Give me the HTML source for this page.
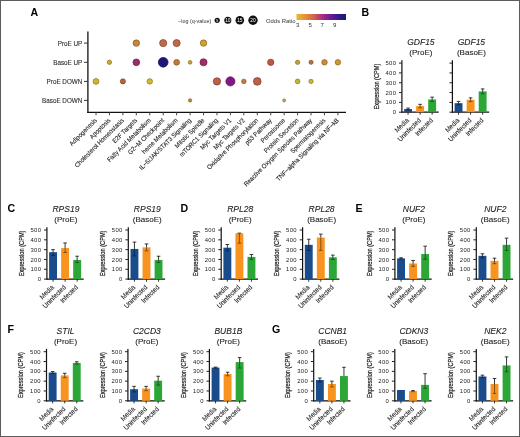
<!DOCTYPE html><html><head><meta charset="utf-8"><style>html,body{margin:0;padding:0;background:#fff;}svg{display:block;filter:blur(0.35px);}text{font-family:"Liberation Sans", sans-serif;} .tx{stroke:#222;stroke-width:0.22px;} .tl{stroke:#222;stroke-width:0.1px;}</style></head><body>
<svg width="520" height="437" viewBox="0 0 520 437">
<defs><linearGradient id="plasma" x1="0" x2="1" y1="0" y2="0"><stop offset="0" stop-color="#e4bc30"/><stop offset="0.18" stop-color="#e49038"/><stop offset="0.36" stop-color="#d0604e"/><stop offset="0.53" stop-color="#a82a84"/><stop offset="0.72" stop-color="#5c1c98"/><stop offset="0.9" stop-color="#261a80"/><stop offset="1" stop-color="#1e1870"/></linearGradient></defs>
<rect x="0" y="0" width="520" height="437" fill="#fff"/>
<text  x="30.60" y="16.40" font-size="10.6" text-anchor="start" font-weight="bold" font-style="normal" fill="#000" >A</text>
<text  x="361.60" y="16.40" font-size="10.6" text-anchor="start" font-weight="bold" font-style="normal" fill="#000" >B</text>
<text  x="7.40" y="212.00" font-size="10.6" text-anchor="start" font-weight="bold" font-style="normal" fill="#000" >C</text>
<text  x="180.60" y="212.00" font-size="10.6" text-anchor="start" font-weight="bold" font-style="normal" fill="#000" >D</text>
<text  x="355.60" y="212.00" font-size="10.6" text-anchor="start" font-weight="bold" font-style="normal" fill="#000" >E</text>
<text  x="7.60" y="333.20" font-size="10.6" text-anchor="start" font-weight="bold" font-style="normal" fill="#000" >F</text>
<text  x="272.00" y="333.20" font-size="10.6" text-anchor="start" font-weight="bold" font-style="normal" fill="#000" >G</text>
<line x1="87.90" y1="31.60" x2="87.90" y2="112.90" stroke="#111" stroke-width="1.3"/>
<line x1="87.30" y1="112.30" x2="346.00" y2="112.30" stroke="#111" stroke-width="1.3"/>
<line x1="84.00" y1="43.10" x2="88.00" y2="43.10" stroke="#333" stroke-width="1.0"/>
<text class="tl" x="82.3" y="45.80" font-size="6.3" text-anchor="end" fill="#333">ProE UP</text>
<line x1="84.00" y1="62.30" x2="88.00" y2="62.30" stroke="#333" stroke-width="1.0"/>
<text class="tl" x="82.3" y="65.00" font-size="6.3" text-anchor="end" fill="#333">BasoE UP</text>
<line x1="84.00" y1="81.40" x2="88.00" y2="81.40" stroke="#333" stroke-width="1.0"/>
<text class="tl" x="82.3" y="84.10" font-size="6.3" text-anchor="end" fill="#333">ProE DOWN</text>
<line x1="84.00" y1="100.40" x2="88.00" y2="100.40" stroke="#333" stroke-width="1.0"/>
<text class="tl" x="82.3" y="103.10" font-size="6.3" text-anchor="end" fill="#333">BasoE DOWN</text>
<line x1="96.00" y1="112.30" x2="96.00" y2="115.30" stroke="#444" stroke-width="1.0"/>
<text transform="translate(95.80,119.20) rotate(-45)" class="tl" font-size="6.5" text-anchor="end" fill="#222" dy="0.35em" textLength="36.03" lengthAdjust="spacingAndGlyphs">Adipogenesis</text>
<line x1="109.44" y1="112.30" x2="109.44" y2="115.30" stroke="#444" stroke-width="1.0"/>
<text transform="translate(109.24,119.20) rotate(-45)" class="tl" font-size="6.5" text-anchor="end" fill="#222" dy="0.35em" textLength="26.35" lengthAdjust="spacingAndGlyphs">Apoptosis</text>
<line x1="122.88" y1="112.30" x2="122.88" y2="115.30" stroke="#444" stroke-width="1.0"/>
<text transform="translate(122.68,119.20) rotate(-45)" class="tl" font-size="6.5" text-anchor="end" fill="#222" dy="0.35em" textLength="66.69" lengthAdjust="spacingAndGlyphs">Cholesterol Homeostasis</text>
<line x1="136.32" y1="112.30" x2="136.32" y2="115.30" stroke="#444" stroke-width="1.0"/>
<text transform="translate(136.12,119.20) rotate(-45)" class="tl" font-size="6.5" text-anchor="end" fill="#222" dy="0.35em" textLength="32.24" lengthAdjust="spacingAndGlyphs">E2F Targets</text>
<line x1="149.76" y1="112.30" x2="149.76" y2="115.30" stroke="#444" stroke-width="1.0"/>
<text transform="translate(149.56,119.20) rotate(-45)" class="tl" font-size="6.5" text-anchor="end" fill="#222" dy="0.35em" textLength="58.69" lengthAdjust="spacingAndGlyphs">Fatty Acid Metabolism</text>
<line x1="163.20" y1="112.30" x2="163.20" y2="115.30" stroke="#444" stroke-width="1.0"/>
<text transform="translate(163.00,119.20) rotate(-45)" class="tl" font-size="6.5" text-anchor="end" fill="#222" dy="0.35em" textLength="48.19" lengthAdjust="spacingAndGlyphs">G2−M Checkpoint</text>
<line x1="176.64" y1="112.30" x2="176.64" y2="115.30" stroke="#444" stroke-width="1.0"/>
<text transform="translate(176.44,119.20) rotate(-45)" class="tl" font-size="6.5" text-anchor="end" fill="#222" dy="0.35em" textLength="47.35" lengthAdjust="spacingAndGlyphs">heme Metabolism</text>
<line x1="190.08" y1="112.30" x2="190.08" y2="115.30" stroke="#444" stroke-width="1.0"/>
<text transform="translate(189.88,119.20) rotate(-45)" class="tl" font-size="6.5" text-anchor="end" fill="#222" dy="0.35em" textLength="70.32" lengthAdjust="spacingAndGlyphs">IL−6/JAK/STAT3 Signaling</text>
<line x1="203.52" y1="112.30" x2="203.52" y2="115.30" stroke="#444" stroke-width="1.0"/>
<text transform="translate(203.32,119.20) rotate(-45)" class="tl" font-size="6.5" text-anchor="end" fill="#222" dy="0.35em" textLength="39.02" lengthAdjust="spacingAndGlyphs">Mitotic Spindle</text>
<line x1="216.96" y1="112.30" x2="216.96" y2="115.30" stroke="#444" stroke-width="1.0"/>
<text transform="translate(216.76,119.20) rotate(-45)" class="tl" font-size="6.5" text-anchor="end" fill="#222" dy="0.35em" textLength="51.58" lengthAdjust="spacingAndGlyphs">mTORC1 Signaling</text>
<line x1="230.40" y1="112.30" x2="230.40" y2="115.30" stroke="#444" stroke-width="1.0"/>
<text transform="translate(230.20,119.20) rotate(-45)" class="tl" font-size="6.5" text-anchor="end" fill="#222" dy="0.35em" textLength="41.24" lengthAdjust="spacingAndGlyphs">Myc Targets V1</text>
<line x1="243.84" y1="112.30" x2="243.84" y2="115.30" stroke="#444" stroke-width="1.0"/>
<text transform="translate(243.64,119.20) rotate(-45)" class="tl" font-size="6.5" text-anchor="end" fill="#222" dy="0.35em" textLength="41.24" lengthAdjust="spacingAndGlyphs">Myc Targets V2</text>
<line x1="257.28" y1="112.30" x2="257.28" y2="115.30" stroke="#444" stroke-width="1.0"/>
<text transform="translate(257.08,119.20) rotate(-45)" class="tl" font-size="6.5" text-anchor="end" fill="#222" dy="0.35em" textLength="69.71" lengthAdjust="spacingAndGlyphs">Oxidative Phosphorylation</text>
<line x1="270.72" y1="112.30" x2="270.72" y2="115.30" stroke="#444" stroke-width="1.0"/>
<text transform="translate(270.52,119.20) rotate(-45)" class="tl" font-size="6.5" text-anchor="end" fill="#222" dy="0.35em" textLength="34.69" lengthAdjust="spacingAndGlyphs">p53 Pathway</text>
<line x1="284.16" y1="112.30" x2="284.16" y2="115.30" stroke="#444" stroke-width="1.0"/>
<text transform="translate(283.96,119.20) rotate(-45)" class="tl" font-size="6.5" text-anchor="end" fill="#222" dy="0.35em" textLength="31.68" lengthAdjust="spacingAndGlyphs">Peroxisome</text>
<line x1="297.60" y1="112.30" x2="297.60" y2="115.30" stroke="#444" stroke-width="1.0"/>
<text transform="translate(297.40,119.20) rotate(-45)" class="tl" font-size="6.5" text-anchor="end" fill="#222" dy="0.35em" textLength="46.03" lengthAdjust="spacingAndGlyphs">Protein Secretion</text>
<line x1="311.04" y1="112.30" x2="311.04" y2="115.30" stroke="#444" stroke-width="1.0"/>
<text transform="translate(310.84,119.20) rotate(-45)" class="tl" font-size="6.5" text-anchor="end" fill="#222" dy="0.35em" textLength="93.38" lengthAdjust="spacingAndGlyphs">Reactive Oxygen Species Pathway</text>
<line x1="324.48" y1="112.30" x2="324.48" y2="115.30" stroke="#444" stroke-width="1.0"/>
<text transform="translate(324.28,119.20) rotate(-45)" class="tl" font-size="6.5" text-anchor="end" fill="#222" dy="0.35em" textLength="46.69" lengthAdjust="spacingAndGlyphs">Spermatogenesis</text>
<line x1="337.92" y1="112.30" x2="337.92" y2="115.30" stroke="#444" stroke-width="1.0"/>
<text transform="translate(337.72,119.20) rotate(-45)" class="tl" font-size="6.5" text-anchor="end" fill="#222" dy="0.35em" textLength="85.71" lengthAdjust="spacingAndGlyphs">TNF−alpha Signaling via NF−kB</text>
<circle cx="136.32" cy="43.10" r="3.25" fill="#ce8335" stroke="#865522" stroke-width="0.7"/>
<circle cx="163.20" cy="43.10" r="3.60" fill="#be6a46" stroke="#7c452d" stroke-width="0.7"/>
<circle cx="176.64" cy="43.10" r="3.55" fill="#be6a46" stroke="#7c452d" stroke-width="0.7"/>
<circle cx="203.52" cy="43.10" r="3.25" fill="#cda12d" stroke="#85691d" stroke-width="0.7"/>
<circle cx="109.44" cy="62.30" r="2.15" fill="#cbab2b" stroke="#846f1c" stroke-width="0.7"/>
<circle cx="136.32" cy="62.30" r="3.35" fill="#992d66" stroke="#641d42" stroke-width="0.7"/>
<circle cx="163.20" cy="62.30" r="4.85" fill="#211677" stroke="#150e4e" stroke-width="0.7"/>
<circle cx="176.64" cy="62.30" r="2.85" fill="#c1793c" stroke="#7e4f27" stroke-width="0.7"/>
<circle cx="190.08" cy="62.30" r="1.85" fill="#cda72b" stroke="#856d1c" stroke-width="0.7"/>
<circle cx="203.52" cy="62.30" r="3.55" fill="#9f2d68" stroke="#681d44" stroke-width="0.7"/>
<circle cx="270.72" cy="62.30" r="3.15" fill="#ba5940" stroke="#793a2a" stroke-width="0.7"/>
<circle cx="297.60" cy="62.30" r="2.15" fill="#c7a12d" stroke="#82691d" stroke-width="0.7"/>
<circle cx="311.04" cy="62.30" r="2.05" fill="#ba733e" stroke="#794b28" stroke-width="0.7"/>
<circle cx="324.48" cy="62.30" r="2.75" fill="#c98e31" stroke="#835d20" stroke-width="0.7"/>
<circle cx="337.92" cy="62.30" r="2.75" fill="#cb9b2f" stroke="#84651f" stroke-width="0.7"/>
<circle cx="96.00" cy="81.40" r="2.95" fill="#d1b62b" stroke="#88771c" stroke-width="0.7"/>
<circle cx="122.88" cy="81.40" r="2.55" fill="#ba6439" stroke="#794125" stroke-width="0.7"/>
<circle cx="149.76" cy="81.40" r="2.75" fill="#d4ba29" stroke="#8a791b" stroke-width="0.7"/>
<circle cx="216.96" cy="81.40" r="3.65" fill="#be5f46" stroke="#7c3e2d" stroke-width="0.7"/>
<circle cx="230.40" cy="81.40" r="4.55" fill="#831885" stroke="#551056" stroke-width="0.7"/>
<circle cx="243.84" cy="81.40" r="2.25" fill="#c57d3e" stroke="#805128" stroke-width="0.7"/>
<circle cx="257.28" cy="81.40" r="3.85" fill="#be5f46" stroke="#7c3e2d" stroke-width="0.7"/>
<circle cx="297.60" cy="81.40" r="2.35" fill="#beb62d" stroke="#7c771d" stroke-width="0.7"/>
<circle cx="311.04" cy="81.40" r="2.15" fill="#c4ba35" stroke="#807922" stroke-width="0.7"/>
<circle cx="190.08" cy="100.40" r="1.65" fill="#c18c2f" stroke="#7e5b1f" stroke-width="0.7"/>
<circle cx="284.16" cy="100.40" r="1.45" fill="#bea75b" stroke="#7c6d3b" stroke-width="0.7"/>
<text  x="178.00" y="22.80" font-size="5.45" text-anchor="start" font-weight="normal" font-style="normal" fill="#333" >−log (q-value)</text>
<circle cx="217.2" cy="20.3" r="2.6" fill="#111"/>
<text  x="217.20" y="22.00" font-size="4.2" text-anchor="middle" font-weight="normal" font-style="normal" fill="#fff" >5</text>
<circle cx="227.8" cy="20.3" r="3.5" fill="#111"/>
<text  x="227.80" y="22.00" font-size="4.8" text-anchor="middle" font-weight="normal" font-style="normal" fill="#fff" >10</text>
<circle cx="239.8" cy="20.3" r="4.3" fill="#111"/>
<text  x="239.80" y="22.00" font-size="4.8" text-anchor="middle" font-weight="normal" font-style="normal" fill="#fff" >15</text>
<circle cx="253.0" cy="20.3" r="4.7" fill="#111"/>
<text  x="253.00" y="22.00" font-size="4.8" text-anchor="middle" font-weight="normal" font-style="normal" fill="#fff" >20</text>
<text  x="266.00" y="23.00" font-size="5.9" text-anchor="start" font-weight="normal" font-style="normal" fill="#333" >Odds Ratio</text>
<rect x="296.5" y="14" width="49.5" height="6" fill="url(#plasma)"/>
<text  x="297.60" y="27.30" font-size="6.1" text-anchor="middle" font-weight="normal" font-style="normal" fill="#333" >3</text>
<text  x="310.20" y="27.30" font-size="6.1" text-anchor="middle" font-weight="normal" font-style="normal" fill="#333" >5</text>
<text  x="322.20" y="27.30" font-size="6.1" text-anchor="middle" font-weight="normal" font-style="normal" fill="#333" >7</text>
<text  x="334.80" y="27.30" font-size="6.1" text-anchor="middle" font-weight="normal" font-style="normal" fill="#333" >9</text>
<line x1="401.90" y1="60.30" x2="401.90" y2="112.80" stroke="#111" stroke-width="1.2"/>
<line x1="401.30" y1="112.20" x2="438.70" y2="112.20" stroke="#111" stroke-width="1.2"/>
<line x1="399.00" y1="112.20" x2="401.90" y2="112.20" stroke="#222" stroke-width="1.0"/>
<text x="396.30" y="114.30" font-size="5.9" text-anchor="end" fill="#222" letter-spacing="0.35">0</text>
<line x1="399.00" y1="102.38" x2="401.90" y2="102.38" stroke="#222" stroke-width="1.0"/>
<text x="396.30" y="104.48" font-size="5.9" text-anchor="end" fill="#222" letter-spacing="0.35">100</text>
<line x1="399.00" y1="92.56" x2="401.90" y2="92.56" stroke="#222" stroke-width="1.0"/>
<text x="396.30" y="94.66" font-size="5.9" text-anchor="end" fill="#222" letter-spacing="0.35">200</text>
<line x1="399.00" y1="82.74" x2="401.90" y2="82.74" stroke="#222" stroke-width="1.0"/>
<text x="396.30" y="84.84" font-size="5.9" text-anchor="end" fill="#222" letter-spacing="0.35">300</text>
<line x1="399.00" y1="72.92" x2="401.90" y2="72.92" stroke="#222" stroke-width="1.0"/>
<text x="396.30" y="75.02" font-size="5.9" text-anchor="end" fill="#222" letter-spacing="0.35">400</text>
<line x1="399.00" y1="63.10" x2="401.90" y2="63.10" stroke="#222" stroke-width="1.0"/>
<text x="396.30" y="65.20" font-size="5.9" text-anchor="end" fill="#222" letter-spacing="0.35">500</text>
<text transform="translate(378.60,86.50) rotate(-90)" class="tx" font-size="7.0" text-anchor="middle" fill="#222" textLength="45.8" lengthAdjust="spacingAndGlyphs">Expression (CPM)</text>
<text class="tl" x="420.90" y="45.40" font-size="8.5" text-anchor="middle" font-style="italic" fill="#222">GDF15</text>
<text class="tl" x="420.90" y="55.20" font-size="8.0" text-anchor="middle" fill="#222">(ProE)</text>
<rect x="404.10" y="109.06" width="7.9" height="3.14" fill="#1a4c8c"/>
<line x1="408.05" y1="108.08" x2="408.05" y2="109.06" stroke="#222" stroke-width="0.9"/>
<line x1="406.25" y1="108.08" x2="409.85" y2="108.08" stroke="#222" stroke-width="0.9"/>
<line x1="408.05" y1="109.06" x2="408.05" y2="110.04" stroke="#0d2646" stroke-width="0.9"/>
<line x1="406.25" y1="110.04" x2="409.85" y2="110.04" stroke="#0d2646" stroke-width="0.9"/>
<line x1="408.05" y1="112.20" x2="408.05" y2="114.80" stroke="#222" stroke-width="0.9"/>
<text transform="translate(407.65,119.20) rotate(-45)" class="tl" font-size="7.0" text-anchor="end" fill="#222" dy="0.35em" textLength="16.89" lengthAdjust="spacingAndGlyphs">Media</text>
<rect x="416.15" y="106.11" width="7.9" height="6.09" fill="#f7931e"/>
<line x1="420.10" y1="104.34" x2="420.10" y2="106.11" stroke="#222" stroke-width="0.9"/>
<line x1="418.30" y1="104.34" x2="421.90" y2="104.34" stroke="#222" stroke-width="0.9"/>
<line x1="420.10" y1="106.11" x2="420.10" y2="107.78" stroke="#7b490f" stroke-width="0.9"/>
<line x1="418.30" y1="107.78" x2="421.90" y2="107.78" stroke="#7b490f" stroke-width="0.9"/>
<line x1="420.10" y1="112.20" x2="420.10" y2="114.80" stroke="#222" stroke-width="0.9"/>
<text transform="translate(419.70,119.20) rotate(-45)" class="tl" font-size="7.0" text-anchor="end" fill="#222" dy="0.35em" textLength="29.64" lengthAdjust="spacingAndGlyphs">Uninfected</text>
<rect x="428.20" y="99.43" width="7.9" height="12.77" fill="#2ca737"/>
<line x1="432.15" y1="97.18" x2="432.15" y2="99.43" stroke="#222" stroke-width="0.9"/>
<line x1="430.35" y1="97.18" x2="433.95" y2="97.18" stroke="#222" stroke-width="0.9"/>
<line x1="432.15" y1="99.43" x2="432.15" y2="101.40" stroke="#16531b" stroke-width="0.9"/>
<line x1="430.35" y1="101.40" x2="433.95" y2="101.40" stroke="#16531b" stroke-width="0.9"/>
<line x1="432.15" y1="112.20" x2="432.15" y2="114.80" stroke="#222" stroke-width="0.9"/>
<text transform="translate(431.75,119.20) rotate(-45)" class="tl" font-size="7.0" text-anchor="end" fill="#222" dy="0.35em" textLength="22.06" lengthAdjust="spacingAndGlyphs">Infected</text>
<line x1="452.40" y1="60.30" x2="452.40" y2="112.80" stroke="#111" stroke-width="1.2"/>
<line x1="451.80" y1="112.20" x2="489.20" y2="112.20" stroke="#111" stroke-width="1.2"/>
<line x1="449.50" y1="112.20" x2="452.40" y2="112.20" stroke="#222" stroke-width="1.0"/>
<line x1="449.50" y1="102.38" x2="452.40" y2="102.38" stroke="#222" stroke-width="1.0"/>
<line x1="449.50" y1="92.56" x2="452.40" y2="92.56" stroke="#222" stroke-width="1.0"/>
<line x1="449.50" y1="82.74" x2="452.40" y2="82.74" stroke="#222" stroke-width="1.0"/>
<line x1="449.50" y1="72.92" x2="452.40" y2="72.92" stroke="#222" stroke-width="1.0"/>
<line x1="449.50" y1="63.10" x2="452.40" y2="63.10" stroke="#222" stroke-width="1.0"/>
<text class="tl" x="471.40" y="45.40" font-size="8.5" text-anchor="middle" font-style="italic" fill="#222">GDF15</text>
<text class="tl" x="471.40" y="55.20" font-size="8.0" text-anchor="middle" fill="#222">(BasoE)</text>
<rect x="454.60" y="103.17" width="7.9" height="9.03" fill="#1a4c8c"/>
<line x1="458.55" y1="101.40" x2="458.55" y2="103.17" stroke="#222" stroke-width="0.9"/>
<line x1="456.75" y1="101.40" x2="460.35" y2="101.40" stroke="#222" stroke-width="0.9"/>
<line x1="458.55" y1="103.17" x2="458.55" y2="104.84" stroke="#0d2646" stroke-width="0.9"/>
<line x1="456.75" y1="104.84" x2="460.35" y2="104.84" stroke="#0d2646" stroke-width="0.9"/>
<line x1="458.55" y1="112.20" x2="458.55" y2="114.80" stroke="#222" stroke-width="0.9"/>
<text transform="translate(458.15,119.20) rotate(-45)" class="tl" font-size="7.0" text-anchor="end" fill="#222" dy="0.35em" textLength="16.89" lengthAdjust="spacingAndGlyphs">Media</text>
<rect x="466.65" y="99.73" width="7.9" height="12.47" fill="#f7931e"/>
<line x1="470.60" y1="97.86" x2="470.60" y2="99.73" stroke="#222" stroke-width="0.9"/>
<line x1="468.80" y1="97.86" x2="472.40" y2="97.86" stroke="#222" stroke-width="0.9"/>
<line x1="470.60" y1="99.73" x2="470.60" y2="101.59" stroke="#7b490f" stroke-width="0.9"/>
<line x1="468.80" y1="101.59" x2="472.40" y2="101.59" stroke="#7b490f" stroke-width="0.9"/>
<line x1="470.60" y1="112.20" x2="470.60" y2="114.80" stroke="#222" stroke-width="0.9"/>
<text transform="translate(470.20,119.20) rotate(-45)" class="tl" font-size="7.0" text-anchor="end" fill="#222" dy="0.35em" textLength="29.64" lengthAdjust="spacingAndGlyphs">Uninfected</text>
<rect x="478.70" y="91.38" width="7.9" height="20.82" fill="#2ca737"/>
<line x1="482.65" y1="88.93" x2="482.65" y2="91.38" stroke="#222" stroke-width="0.9"/>
<line x1="480.85" y1="88.93" x2="484.45" y2="88.93" stroke="#222" stroke-width="0.9"/>
<line x1="482.65" y1="91.38" x2="482.65" y2="93.74" stroke="#16531b" stroke-width="0.9"/>
<line x1="480.85" y1="93.74" x2="484.45" y2="93.74" stroke="#16531b" stroke-width="0.9"/>
<line x1="482.65" y1="112.20" x2="482.65" y2="114.80" stroke="#222" stroke-width="0.9"/>
<text transform="translate(482.25,119.20) rotate(-45)" class="tl" font-size="7.0" text-anchor="end" fill="#222" dy="0.35em" textLength="22.06" lengthAdjust="spacingAndGlyphs">Infected</text>
<line x1="46.90" y1="227.20" x2="46.90" y2="279.70" stroke="#111" stroke-width="1.2"/>
<line x1="46.30" y1="279.10" x2="83.70" y2="279.10" stroke="#111" stroke-width="1.2"/>
<line x1="44.00" y1="279.10" x2="46.90" y2="279.10" stroke="#222" stroke-width="1.0"/>
<text x="41.30" y="281.20" font-size="5.9" text-anchor="end" fill="#222" letter-spacing="0.35">0</text>
<line x1="44.00" y1="269.28" x2="46.90" y2="269.28" stroke="#222" stroke-width="1.0"/>
<text x="41.30" y="271.38" font-size="5.9" text-anchor="end" fill="#222" letter-spacing="0.35">100</text>
<line x1="44.00" y1="259.46" x2="46.90" y2="259.46" stroke="#222" stroke-width="1.0"/>
<text x="41.30" y="261.56" font-size="5.9" text-anchor="end" fill="#222" letter-spacing="0.35">200</text>
<line x1="44.00" y1="249.64" x2="46.90" y2="249.64" stroke="#222" stroke-width="1.0"/>
<text x="41.30" y="251.74" font-size="5.9" text-anchor="end" fill="#222" letter-spacing="0.35">300</text>
<line x1="44.00" y1="239.82" x2="46.90" y2="239.82" stroke="#222" stroke-width="1.0"/>
<text x="41.30" y="241.92" font-size="5.9" text-anchor="end" fill="#222" letter-spacing="0.35">400</text>
<line x1="44.00" y1="230.00" x2="46.90" y2="230.00" stroke="#222" stroke-width="1.0"/>
<text x="41.30" y="232.10" font-size="5.9" text-anchor="end" fill="#222" letter-spacing="0.35">500</text>
<text transform="translate(23.60,253.40) rotate(-90)" class="tx" font-size="7.0" text-anchor="middle" fill="#222" textLength="45.8" lengthAdjust="spacingAndGlyphs">Expression (CPM)</text>
<text class="tl" x="65.90" y="212.30" font-size="8.5" text-anchor="middle" font-style="italic" fill="#222">RPS19</text>
<text class="tl" x="65.90" y="222.10" font-size="8.0" text-anchor="middle" fill="#222">(ProE)</text>
<rect x="49.10" y="252.19" width="7.9" height="26.91" fill="#1a4c8c"/>
<line x1="53.05" y1="249.64" x2="53.05" y2="252.19" stroke="#222" stroke-width="0.9"/>
<line x1="51.25" y1="249.64" x2="54.85" y2="249.64" stroke="#222" stroke-width="0.9"/>
<line x1="53.05" y1="252.19" x2="53.05" y2="255.53" stroke="#0d2646" stroke-width="0.9"/>
<line x1="51.25" y1="255.53" x2="54.85" y2="255.53" stroke="#0d2646" stroke-width="0.9"/>
<line x1="53.05" y1="279.10" x2="53.05" y2="281.70" stroke="#222" stroke-width="0.9"/>
<text transform="translate(52.65,286.10) rotate(-45)" class="tl" font-size="7.0" text-anchor="end" fill="#222" dy="0.35em" textLength="16.89" lengthAdjust="spacingAndGlyphs">Media</text>
<rect x="61.15" y="248.07" width="7.9" height="31.03" fill="#f7931e"/>
<line x1="65.10" y1="242.96" x2="65.10" y2="248.07" stroke="#222" stroke-width="0.9"/>
<line x1="63.30" y1="242.96" x2="66.90" y2="242.96" stroke="#222" stroke-width="0.9"/>
<line x1="65.10" y1="248.07" x2="65.10" y2="252.49" stroke="#7b490f" stroke-width="0.9"/>
<line x1="63.30" y1="252.49" x2="66.90" y2="252.49" stroke="#7b490f" stroke-width="0.9"/>
<line x1="65.10" y1="279.10" x2="65.10" y2="281.70" stroke="#222" stroke-width="0.9"/>
<text transform="translate(64.70,286.10) rotate(-45)" class="tl" font-size="7.0" text-anchor="end" fill="#222" dy="0.35em" textLength="29.64" lengthAdjust="spacingAndGlyphs">Uninfected</text>
<rect x="73.20" y="259.95" width="7.9" height="19.15" fill="#2ca737"/>
<line x1="77.15" y1="256.22" x2="77.15" y2="259.95" stroke="#222" stroke-width="0.9"/>
<line x1="75.35" y1="256.22" x2="78.95" y2="256.22" stroke="#222" stroke-width="0.9"/>
<line x1="77.15" y1="259.95" x2="77.15" y2="262.41" stroke="#16531b" stroke-width="0.9"/>
<line x1="75.35" y1="262.41" x2="78.95" y2="262.41" stroke="#16531b" stroke-width="0.9"/>
<line x1="77.15" y1="279.10" x2="77.15" y2="281.70" stroke="#222" stroke-width="0.9"/>
<text transform="translate(76.75,286.10) rotate(-45)" class="tl" font-size="7.0" text-anchor="end" fill="#222" dy="0.35em" textLength="22.06" lengthAdjust="spacingAndGlyphs">Infected</text>
<line x1="128.30" y1="227.20" x2="128.30" y2="279.70" stroke="#111" stroke-width="1.2"/>
<line x1="127.70" y1="279.10" x2="165.10" y2="279.10" stroke="#111" stroke-width="1.2"/>
<line x1="125.40" y1="279.10" x2="128.30" y2="279.10" stroke="#222" stroke-width="1.0"/>
<text x="122.70" y="281.20" font-size="5.9" text-anchor="end" fill="#222" letter-spacing="0.35">0</text>
<line x1="125.40" y1="269.28" x2="128.30" y2="269.28" stroke="#222" stroke-width="1.0"/>
<text x="122.70" y="271.38" font-size="5.9" text-anchor="end" fill="#222" letter-spacing="0.35">100</text>
<line x1="125.40" y1="259.46" x2="128.30" y2="259.46" stroke="#222" stroke-width="1.0"/>
<text x="122.70" y="261.56" font-size="5.9" text-anchor="end" fill="#222" letter-spacing="0.35">200</text>
<line x1="125.40" y1="249.64" x2="128.30" y2="249.64" stroke="#222" stroke-width="1.0"/>
<text x="122.70" y="251.74" font-size="5.9" text-anchor="end" fill="#222" letter-spacing="0.35">300</text>
<line x1="125.40" y1="239.82" x2="128.30" y2="239.82" stroke="#222" stroke-width="1.0"/>
<text x="122.70" y="241.92" font-size="5.9" text-anchor="end" fill="#222" letter-spacing="0.35">400</text>
<line x1="125.40" y1="230.00" x2="128.30" y2="230.00" stroke="#222" stroke-width="1.0"/>
<text x="122.70" y="232.10" font-size="5.9" text-anchor="end" fill="#222" letter-spacing="0.35">500</text>
<text transform="translate(105.00,253.40) rotate(-90)" class="tx" font-size="7.0" text-anchor="middle" fill="#222" textLength="45.8" lengthAdjust="spacingAndGlyphs">Expression (CPM)</text>
<text class="tl" x="147.30" y="212.30" font-size="8.5" text-anchor="middle" font-style="italic" fill="#222">RPS19</text>
<text class="tl" x="147.30" y="222.10" font-size="8.0" text-anchor="middle" fill="#222">(BasoE)</text>
<rect x="130.50" y="248.95" width="7.9" height="30.15" fill="#1a4c8c"/>
<line x1="134.45" y1="242.08" x2="134.45" y2="248.95" stroke="#222" stroke-width="0.9"/>
<line x1="132.65" y1="242.08" x2="136.25" y2="242.08" stroke="#222" stroke-width="0.9"/>
<line x1="134.45" y1="248.95" x2="134.45" y2="255.83" stroke="#0d2646" stroke-width="0.9"/>
<line x1="132.65" y1="255.83" x2="136.25" y2="255.83" stroke="#0d2646" stroke-width="0.9"/>
<line x1="134.45" y1="279.10" x2="134.45" y2="281.70" stroke="#222" stroke-width="0.9"/>
<text transform="translate(134.05,286.10) rotate(-45)" class="tl" font-size="7.0" text-anchor="end" fill="#222" dy="0.35em" textLength="16.89" lengthAdjust="spacingAndGlyphs">Media</text>
<rect x="142.55" y="247.38" width="7.9" height="31.72" fill="#f7931e"/>
<line x1="146.50" y1="243.94" x2="146.50" y2="247.38" stroke="#222" stroke-width="0.9"/>
<line x1="144.70" y1="243.94" x2="148.30" y2="243.94" stroke="#222" stroke-width="0.9"/>
<line x1="146.50" y1="247.38" x2="146.50" y2="250.82" stroke="#7b490f" stroke-width="0.9"/>
<line x1="144.70" y1="250.82" x2="148.30" y2="250.82" stroke="#7b490f" stroke-width="0.9"/>
<line x1="146.50" y1="279.10" x2="146.50" y2="281.70" stroke="#222" stroke-width="0.9"/>
<text transform="translate(146.10,286.10) rotate(-45)" class="tl" font-size="7.0" text-anchor="end" fill="#222" dy="0.35em" textLength="29.64" lengthAdjust="spacingAndGlyphs">Uninfected</text>
<rect x="154.60" y="259.95" width="7.9" height="19.15" fill="#2ca737"/>
<line x1="158.55" y1="256.22" x2="158.55" y2="259.95" stroke="#222" stroke-width="0.9"/>
<line x1="156.75" y1="256.22" x2="160.35" y2="256.22" stroke="#222" stroke-width="0.9"/>
<line x1="158.55" y1="259.95" x2="158.55" y2="262.41" stroke="#16531b" stroke-width="0.9"/>
<line x1="156.75" y1="262.41" x2="160.35" y2="262.41" stroke="#16531b" stroke-width="0.9"/>
<line x1="158.55" y1="279.10" x2="158.55" y2="281.70" stroke="#222" stroke-width="0.9"/>
<text transform="translate(158.15,286.10) rotate(-45)" class="tl" font-size="7.0" text-anchor="end" fill="#222" dy="0.35em" textLength="22.06" lengthAdjust="spacingAndGlyphs">Infected</text>
<line x1="221.20" y1="227.20" x2="221.20" y2="279.70" stroke="#111" stroke-width="1.2"/>
<line x1="220.60" y1="279.10" x2="258.00" y2="279.10" stroke="#111" stroke-width="1.2"/>
<line x1="218.30" y1="279.10" x2="221.20" y2="279.10" stroke="#222" stroke-width="1.0"/>
<text x="215.60" y="281.20" font-size="5.9" text-anchor="end" fill="#222" letter-spacing="0.35">0</text>
<line x1="218.30" y1="269.28" x2="221.20" y2="269.28" stroke="#222" stroke-width="1.0"/>
<text x="215.60" y="271.38" font-size="5.9" text-anchor="end" fill="#222" letter-spacing="0.35">100</text>
<line x1="218.30" y1="259.46" x2="221.20" y2="259.46" stroke="#222" stroke-width="1.0"/>
<text x="215.60" y="261.56" font-size="5.9" text-anchor="end" fill="#222" letter-spacing="0.35">200</text>
<line x1="218.30" y1="249.64" x2="221.20" y2="249.64" stroke="#222" stroke-width="1.0"/>
<text x="215.60" y="251.74" font-size="5.9" text-anchor="end" fill="#222" letter-spacing="0.35">300</text>
<line x1="218.30" y1="239.82" x2="221.20" y2="239.82" stroke="#222" stroke-width="1.0"/>
<text x="215.60" y="241.92" font-size="5.9" text-anchor="end" fill="#222" letter-spacing="0.35">400</text>
<line x1="218.30" y1="230.00" x2="221.20" y2="230.00" stroke="#222" stroke-width="1.0"/>
<text x="215.60" y="232.10" font-size="5.9" text-anchor="end" fill="#222" letter-spacing="0.35">500</text>
<text transform="translate(197.90,253.40) rotate(-90)" class="tx" font-size="7.0" text-anchor="middle" fill="#222" textLength="45.8" lengthAdjust="spacingAndGlyphs">Expression (CPM)</text>
<text class="tl" x="240.20" y="212.30" font-size="8.5" text-anchor="middle" font-style="italic" fill="#222">RPL28</text>
<text class="tl" x="240.20" y="222.10" font-size="8.0" text-anchor="middle" fill="#222">(ProE)</text>
<rect x="223.40" y="247.68" width="7.9" height="31.42" fill="#1a4c8c"/>
<line x1="227.35" y1="244.53" x2="227.35" y2="247.68" stroke="#222" stroke-width="0.9"/>
<line x1="225.55" y1="244.53" x2="229.15" y2="244.53" stroke="#222" stroke-width="0.9"/>
<line x1="227.35" y1="247.68" x2="227.35" y2="250.82" stroke="#0d2646" stroke-width="0.9"/>
<line x1="225.55" y1="250.82" x2="229.15" y2="250.82" stroke="#0d2646" stroke-width="0.9"/>
<line x1="227.35" y1="279.10" x2="227.35" y2="281.70" stroke="#222" stroke-width="0.9"/>
<text transform="translate(226.95,286.10) rotate(-45)" class="tl" font-size="7.0" text-anchor="end" fill="#222" dy="0.35em" textLength="16.89" lengthAdjust="spacingAndGlyphs">Media</text>
<rect x="235.45" y="233.34" width="7.9" height="45.76" fill="#f7931e"/>
<line x1="239.40" y1="233.14" x2="239.40" y2="233.34" stroke="#222" stroke-width="0.9"/>
<line x1="237.60" y1="233.14" x2="241.20" y2="233.14" stroke="#222" stroke-width="0.9"/>
<line x1="239.40" y1="233.34" x2="239.40" y2="243.16" stroke="#7b490f" stroke-width="0.9"/>
<line x1="237.60" y1="243.16" x2="241.20" y2="243.16" stroke="#7b490f" stroke-width="0.9"/>
<line x1="239.40" y1="279.10" x2="239.40" y2="281.70" stroke="#222" stroke-width="0.9"/>
<text transform="translate(239.00,286.10) rotate(-45)" class="tl" font-size="7.0" text-anchor="end" fill="#222" dy="0.35em" textLength="29.64" lengthAdjust="spacingAndGlyphs">Uninfected</text>
<rect x="247.50" y="256.91" width="7.9" height="22.19" fill="#2ca737"/>
<line x1="251.45" y1="254.45" x2="251.45" y2="256.91" stroke="#222" stroke-width="0.9"/>
<line x1="249.65" y1="254.45" x2="253.25" y2="254.45" stroke="#222" stroke-width="0.9"/>
<line x1="251.45" y1="256.91" x2="251.45" y2="259.36" stroke="#16531b" stroke-width="0.9"/>
<line x1="249.65" y1="259.36" x2="253.25" y2="259.36" stroke="#16531b" stroke-width="0.9"/>
<line x1="251.45" y1="279.10" x2="251.45" y2="281.70" stroke="#222" stroke-width="0.9"/>
<text transform="translate(251.05,286.10) rotate(-45)" class="tl" font-size="7.0" text-anchor="end" fill="#222" dy="0.35em" textLength="22.06" lengthAdjust="spacingAndGlyphs">Infected</text>
<line x1="302.60" y1="227.20" x2="302.60" y2="279.70" stroke="#111" stroke-width="1.2"/>
<line x1="302.00" y1="279.10" x2="339.40" y2="279.10" stroke="#111" stroke-width="1.2"/>
<line x1="299.70" y1="279.10" x2="302.60" y2="279.10" stroke="#222" stroke-width="1.0"/>
<text x="297.00" y="281.20" font-size="5.9" text-anchor="end" fill="#222" letter-spacing="0.35">0</text>
<line x1="299.70" y1="269.28" x2="302.60" y2="269.28" stroke="#222" stroke-width="1.0"/>
<text x="297.00" y="271.38" font-size="5.9" text-anchor="end" fill="#222" letter-spacing="0.35">100</text>
<line x1="299.70" y1="259.46" x2="302.60" y2="259.46" stroke="#222" stroke-width="1.0"/>
<text x="297.00" y="261.56" font-size="5.9" text-anchor="end" fill="#222" letter-spacing="0.35">200</text>
<line x1="299.70" y1="249.64" x2="302.60" y2="249.64" stroke="#222" stroke-width="1.0"/>
<text x="297.00" y="251.74" font-size="5.9" text-anchor="end" fill="#222" letter-spacing="0.35">300</text>
<line x1="299.70" y1="239.82" x2="302.60" y2="239.82" stroke="#222" stroke-width="1.0"/>
<text x="297.00" y="241.92" font-size="5.9" text-anchor="end" fill="#222" letter-spacing="0.35">400</text>
<line x1="299.70" y1="230.00" x2="302.60" y2="230.00" stroke="#222" stroke-width="1.0"/>
<text x="297.00" y="232.10" font-size="5.9" text-anchor="end" fill="#222" letter-spacing="0.35">500</text>
<text transform="translate(279.30,253.40) rotate(-90)" class="tx" font-size="7.0" text-anchor="middle" fill="#222" textLength="45.8" lengthAdjust="spacingAndGlyphs">Expression (CPM)</text>
<text class="tl" x="321.60" y="212.30" font-size="8.5" text-anchor="middle" font-style="italic" fill="#222">RPL28</text>
<text class="tl" x="321.60" y="222.10" font-size="8.0" text-anchor="middle" fill="#222">(BasoE)</text>
<rect x="304.80" y="244.83" width="7.9" height="34.27" fill="#1a4c8c"/>
<line x1="308.75" y1="239.23" x2="308.75" y2="244.83" stroke="#222" stroke-width="0.9"/>
<line x1="306.95" y1="239.23" x2="310.55" y2="239.23" stroke="#222" stroke-width="0.9"/>
<line x1="308.75" y1="244.83" x2="308.75" y2="250.43" stroke="#0d2646" stroke-width="0.9"/>
<line x1="306.95" y1="250.43" x2="310.55" y2="250.43" stroke="#0d2646" stroke-width="0.9"/>
<line x1="308.75" y1="279.10" x2="308.75" y2="281.70" stroke="#222" stroke-width="0.9"/>
<text transform="translate(308.35,286.10) rotate(-45)" class="tl" font-size="7.0" text-anchor="end" fill="#222" dy="0.35em" textLength="16.89" lengthAdjust="spacingAndGlyphs">Media</text>
<rect x="316.85" y="237.56" width="7.9" height="41.54" fill="#f7931e"/>
<line x1="320.80" y1="234.12" x2="320.80" y2="237.56" stroke="#222" stroke-width="0.9"/>
<line x1="319.00" y1="234.12" x2="322.60" y2="234.12" stroke="#222" stroke-width="0.9"/>
<line x1="320.80" y1="237.56" x2="320.80" y2="250.33" stroke="#7b490f" stroke-width="0.9"/>
<line x1="319.00" y1="250.33" x2="322.60" y2="250.33" stroke="#7b490f" stroke-width="0.9"/>
<line x1="320.80" y1="279.10" x2="320.80" y2="281.70" stroke="#222" stroke-width="0.9"/>
<text transform="translate(320.40,286.10) rotate(-45)" class="tl" font-size="7.0" text-anchor="end" fill="#222" dy="0.35em" textLength="29.64" lengthAdjust="spacingAndGlyphs">Uninfected</text>
<rect x="328.90" y="257.30" width="7.9" height="21.80" fill="#2ca737"/>
<line x1="332.85" y1="255.14" x2="332.85" y2="257.30" stroke="#222" stroke-width="0.9"/>
<line x1="331.05" y1="255.14" x2="334.65" y2="255.14" stroke="#222" stroke-width="0.9"/>
<line x1="332.85" y1="257.30" x2="332.85" y2="259.46" stroke="#16531b" stroke-width="0.9"/>
<line x1="331.05" y1="259.46" x2="334.65" y2="259.46" stroke="#16531b" stroke-width="0.9"/>
<line x1="332.85" y1="279.10" x2="332.85" y2="281.70" stroke="#222" stroke-width="0.9"/>
<text transform="translate(332.45,286.10) rotate(-45)" class="tl" font-size="7.0" text-anchor="end" fill="#222" dy="0.35em" textLength="22.06" lengthAdjust="spacingAndGlyphs">Infected</text>
<line x1="394.90" y1="227.20" x2="394.90" y2="279.70" stroke="#111" stroke-width="1.2"/>
<line x1="394.30" y1="279.10" x2="431.70" y2="279.10" stroke="#111" stroke-width="1.2"/>
<line x1="392.00" y1="279.10" x2="394.90" y2="279.10" stroke="#222" stroke-width="1.0"/>
<text x="389.30" y="281.20" font-size="5.9" text-anchor="end" fill="#222" letter-spacing="0.35">0</text>
<line x1="392.00" y1="269.28" x2="394.90" y2="269.28" stroke="#222" stroke-width="1.0"/>
<text x="389.30" y="271.38" font-size="5.9" text-anchor="end" fill="#222" letter-spacing="0.35">100</text>
<line x1="392.00" y1="259.46" x2="394.90" y2="259.46" stroke="#222" stroke-width="1.0"/>
<text x="389.30" y="261.56" font-size="5.9" text-anchor="end" fill="#222" letter-spacing="0.35">200</text>
<line x1="392.00" y1="249.64" x2="394.90" y2="249.64" stroke="#222" stroke-width="1.0"/>
<text x="389.30" y="251.74" font-size="5.9" text-anchor="end" fill="#222" letter-spacing="0.35">300</text>
<line x1="392.00" y1="239.82" x2="394.90" y2="239.82" stroke="#222" stroke-width="1.0"/>
<text x="389.30" y="241.92" font-size="5.9" text-anchor="end" fill="#222" letter-spacing="0.35">400</text>
<line x1="392.00" y1="230.00" x2="394.90" y2="230.00" stroke="#222" stroke-width="1.0"/>
<text x="389.30" y="232.10" font-size="5.9" text-anchor="end" fill="#222" letter-spacing="0.35">500</text>
<text transform="translate(371.60,253.40) rotate(-90)" class="tx" font-size="7.0" text-anchor="middle" fill="#222" textLength="45.8" lengthAdjust="spacingAndGlyphs">Expression (CPM)</text>
<text class="tl" x="413.90" y="212.30" font-size="8.5" text-anchor="middle" font-style="italic" fill="#222">NUF2</text>
<text class="tl" x="413.90" y="222.10" font-size="8.0" text-anchor="middle" fill="#222">(ProE)</text>
<rect x="397.10" y="258.38" width="7.9" height="20.72" fill="#1a4c8c"/>
<line x1="401.05" y1="257.79" x2="401.05" y2="258.38" stroke="#222" stroke-width="0.9"/>
<line x1="399.25" y1="257.79" x2="402.85" y2="257.79" stroke="#222" stroke-width="0.9"/>
<line x1="401.05" y1="258.38" x2="401.05" y2="258.97" stroke="#0d2646" stroke-width="0.9"/>
<line x1="399.25" y1="258.97" x2="402.85" y2="258.97" stroke="#0d2646" stroke-width="0.9"/>
<line x1="401.05" y1="279.10" x2="401.05" y2="281.70" stroke="#222" stroke-width="0.9"/>
<text transform="translate(400.65,286.10) rotate(-45)" class="tl" font-size="7.0" text-anchor="end" fill="#222" dy="0.35em" textLength="16.89" lengthAdjust="spacingAndGlyphs">Media</text>
<rect x="409.15" y="263.49" width="7.9" height="15.61" fill="#f7931e"/>
<line x1="413.10" y1="260.44" x2="413.10" y2="263.49" stroke="#222" stroke-width="0.9"/>
<line x1="411.30" y1="260.44" x2="414.90" y2="260.44" stroke="#222" stroke-width="0.9"/>
<line x1="413.10" y1="263.49" x2="413.10" y2="266.33" stroke="#7b490f" stroke-width="0.9"/>
<line x1="411.30" y1="266.33" x2="414.90" y2="266.33" stroke="#7b490f" stroke-width="0.9"/>
<line x1="413.10" y1="279.10" x2="413.10" y2="281.70" stroke="#222" stroke-width="0.9"/>
<text transform="translate(412.70,286.10) rotate(-45)" class="tl" font-size="7.0" text-anchor="end" fill="#222" dy="0.35em" textLength="29.64" lengthAdjust="spacingAndGlyphs">Uninfected</text>
<rect x="421.20" y="254.06" width="7.9" height="25.04" fill="#2ca737"/>
<line x1="425.15" y1="246.20" x2="425.15" y2="254.06" stroke="#222" stroke-width="0.9"/>
<line x1="423.35" y1="246.20" x2="426.95" y2="246.20" stroke="#222" stroke-width="0.9"/>
<line x1="425.15" y1="254.06" x2="425.15" y2="259.26" stroke="#16531b" stroke-width="0.9"/>
<line x1="423.35" y1="259.26" x2="426.95" y2="259.26" stroke="#16531b" stroke-width="0.9"/>
<line x1="425.15" y1="279.10" x2="425.15" y2="281.70" stroke="#222" stroke-width="0.9"/>
<text transform="translate(424.75,286.10) rotate(-45)" class="tl" font-size="7.0" text-anchor="end" fill="#222" dy="0.35em" textLength="22.06" lengthAdjust="spacingAndGlyphs">Infected</text>
<line x1="476.30" y1="227.20" x2="476.30" y2="279.70" stroke="#111" stroke-width="1.2"/>
<line x1="475.70" y1="279.10" x2="513.10" y2="279.10" stroke="#111" stroke-width="1.2"/>
<line x1="473.40" y1="279.10" x2="476.30" y2="279.10" stroke="#222" stroke-width="1.0"/>
<text x="470.70" y="281.20" font-size="5.9" text-anchor="end" fill="#222" letter-spacing="0.35">0</text>
<line x1="473.40" y1="269.28" x2="476.30" y2="269.28" stroke="#222" stroke-width="1.0"/>
<text x="470.70" y="271.38" font-size="5.9" text-anchor="end" fill="#222" letter-spacing="0.35">100</text>
<line x1="473.40" y1="259.46" x2="476.30" y2="259.46" stroke="#222" stroke-width="1.0"/>
<text x="470.70" y="261.56" font-size="5.9" text-anchor="end" fill="#222" letter-spacing="0.35">200</text>
<line x1="473.40" y1="249.64" x2="476.30" y2="249.64" stroke="#222" stroke-width="1.0"/>
<text x="470.70" y="251.74" font-size="5.9" text-anchor="end" fill="#222" letter-spacing="0.35">300</text>
<line x1="473.40" y1="239.82" x2="476.30" y2="239.82" stroke="#222" stroke-width="1.0"/>
<text x="470.70" y="241.92" font-size="5.9" text-anchor="end" fill="#222" letter-spacing="0.35">400</text>
<line x1="473.40" y1="230.00" x2="476.30" y2="230.00" stroke="#222" stroke-width="1.0"/>
<text x="470.70" y="232.10" font-size="5.9" text-anchor="end" fill="#222" letter-spacing="0.35">500</text>
<text transform="translate(453.00,253.40) rotate(-90)" class="tx" font-size="7.0" text-anchor="middle" fill="#222" textLength="45.8" lengthAdjust="spacingAndGlyphs">Expression (CPM)</text>
<text class="tl" x="495.30" y="212.30" font-size="8.5" text-anchor="middle" font-style="italic" fill="#222">NUF2</text>
<text class="tl" x="495.30" y="222.10" font-size="8.0" text-anchor="middle" fill="#222">(BasoE)</text>
<rect x="478.50" y="255.83" width="7.9" height="23.27" fill="#1a4c8c"/>
<line x1="482.45" y1="253.76" x2="482.45" y2="255.83" stroke="#222" stroke-width="0.9"/>
<line x1="480.65" y1="253.76" x2="484.25" y2="253.76" stroke="#222" stroke-width="0.9"/>
<line x1="482.45" y1="255.83" x2="482.45" y2="257.89" stroke="#0d2646" stroke-width="0.9"/>
<line x1="480.65" y1="257.89" x2="484.25" y2="257.89" stroke="#0d2646" stroke-width="0.9"/>
<line x1="482.45" y1="279.10" x2="482.45" y2="281.70" stroke="#222" stroke-width="0.9"/>
<text transform="translate(482.05,286.10) rotate(-45)" class="tl" font-size="7.0" text-anchor="end" fill="#222" dy="0.35em" textLength="16.89" lengthAdjust="spacingAndGlyphs">Media</text>
<rect x="490.55" y="260.93" width="7.9" height="18.17" fill="#f7931e"/>
<line x1="494.50" y1="258.18" x2="494.50" y2="260.93" stroke="#222" stroke-width="0.9"/>
<line x1="492.70" y1="258.18" x2="496.30" y2="258.18" stroke="#222" stroke-width="0.9"/>
<line x1="494.50" y1="260.93" x2="494.50" y2="263.68" stroke="#7b490f" stroke-width="0.9"/>
<line x1="492.70" y1="263.68" x2="496.30" y2="263.68" stroke="#7b490f" stroke-width="0.9"/>
<line x1="494.50" y1="279.10" x2="494.50" y2="281.70" stroke="#222" stroke-width="0.9"/>
<text transform="translate(494.10,286.10) rotate(-45)" class="tl" font-size="7.0" text-anchor="end" fill="#222" dy="0.35em" textLength="29.64" lengthAdjust="spacingAndGlyphs">Uninfected</text>
<rect x="502.60" y="244.83" width="7.9" height="34.27" fill="#2ca737"/>
<line x1="506.55" y1="238.15" x2="506.55" y2="244.83" stroke="#222" stroke-width="0.9"/>
<line x1="504.75" y1="238.15" x2="508.35" y2="238.15" stroke="#222" stroke-width="0.9"/>
<line x1="506.55" y1="244.83" x2="506.55" y2="250.33" stroke="#16531b" stroke-width="0.9"/>
<line x1="504.75" y1="250.33" x2="508.35" y2="250.33" stroke="#16531b" stroke-width="0.9"/>
<line x1="506.55" y1="279.10" x2="506.55" y2="281.70" stroke="#222" stroke-width="0.9"/>
<text transform="translate(506.15,286.10) rotate(-45)" class="tl" font-size="7.0" text-anchor="end" fill="#222" dy="0.35em" textLength="22.06" lengthAdjust="spacingAndGlyphs">Infected</text>
<line x1="46.50" y1="348.90" x2="46.50" y2="401.40" stroke="#111" stroke-width="1.2"/>
<line x1="45.90" y1="400.80" x2="83.30" y2="400.80" stroke="#111" stroke-width="1.2"/>
<line x1="43.60" y1="400.80" x2="46.50" y2="400.80" stroke="#222" stroke-width="1.0"/>
<text x="40.90" y="402.90" font-size="5.9" text-anchor="end" fill="#222" letter-spacing="0.35">0</text>
<line x1="43.60" y1="390.98" x2="46.50" y2="390.98" stroke="#222" stroke-width="1.0"/>
<text x="40.90" y="393.08" font-size="5.9" text-anchor="end" fill="#222" letter-spacing="0.35">100</text>
<line x1="43.60" y1="381.16" x2="46.50" y2="381.16" stroke="#222" stroke-width="1.0"/>
<text x="40.90" y="383.26" font-size="5.9" text-anchor="end" fill="#222" letter-spacing="0.35">200</text>
<line x1="43.60" y1="371.34" x2="46.50" y2="371.34" stroke="#222" stroke-width="1.0"/>
<text x="40.90" y="373.44" font-size="5.9" text-anchor="end" fill="#222" letter-spacing="0.35">300</text>
<line x1="43.60" y1="361.52" x2="46.50" y2="361.52" stroke="#222" stroke-width="1.0"/>
<text x="40.90" y="363.62" font-size="5.9" text-anchor="end" fill="#222" letter-spacing="0.35">400</text>
<line x1="43.60" y1="351.70" x2="46.50" y2="351.70" stroke="#222" stroke-width="1.0"/>
<text x="40.90" y="353.80" font-size="5.9" text-anchor="end" fill="#222" letter-spacing="0.35">500</text>
<text transform="translate(23.20,375.10) rotate(-90)" class="tx" font-size="7.0" text-anchor="middle" fill="#222" textLength="45.8" lengthAdjust="spacingAndGlyphs">Expression (CPM)</text>
<text class="tl" x="65.50" y="334.00" font-size="8.5" text-anchor="middle" font-style="italic" fill="#222">STIL</text>
<text class="tl" x="65.50" y="343.80" font-size="8.0" text-anchor="middle" fill="#222">(ProE)</text>
<rect x="48.70" y="372.52" width="7.9" height="28.28" fill="#1a4c8c"/>
<line x1="52.65" y1="371.54" x2="52.65" y2="372.52" stroke="#222" stroke-width="0.9"/>
<line x1="50.85" y1="371.54" x2="54.45" y2="371.54" stroke="#222" stroke-width="0.9"/>
<line x1="52.65" y1="372.52" x2="52.65" y2="373.50" stroke="#0d2646" stroke-width="0.9"/>
<line x1="50.85" y1="373.50" x2="54.45" y2="373.50" stroke="#0d2646" stroke-width="0.9"/>
<line x1="52.65" y1="400.80" x2="52.65" y2="403.40" stroke="#222" stroke-width="0.9"/>
<text transform="translate(52.25,407.80) rotate(-45)" class="tl" font-size="7.0" text-anchor="end" fill="#222" dy="0.35em" textLength="16.89" lengthAdjust="spacingAndGlyphs">Media</text>
<rect x="60.75" y="375.46" width="7.9" height="25.34" fill="#f7931e"/>
<line x1="64.70" y1="373.30" x2="64.70" y2="375.46" stroke="#222" stroke-width="0.9"/>
<line x1="62.90" y1="373.30" x2="66.50" y2="373.30" stroke="#222" stroke-width="0.9"/>
<line x1="64.70" y1="375.46" x2="64.70" y2="377.62" stroke="#7b490f" stroke-width="0.9"/>
<line x1="62.90" y1="377.62" x2="66.50" y2="377.62" stroke="#7b490f" stroke-width="0.9"/>
<line x1="64.70" y1="400.80" x2="64.70" y2="403.40" stroke="#222" stroke-width="0.9"/>
<text transform="translate(64.30,407.80) rotate(-45)" class="tl" font-size="7.0" text-anchor="end" fill="#222" dy="0.35em" textLength="29.64" lengthAdjust="spacingAndGlyphs">Uninfected</text>
<rect x="72.80" y="362.89" width="7.9" height="37.91" fill="#2ca737"/>
<line x1="76.75" y1="361.72" x2="76.75" y2="362.89" stroke="#222" stroke-width="0.9"/>
<line x1="74.95" y1="361.72" x2="78.55" y2="361.72" stroke="#222" stroke-width="0.9"/>
<line x1="76.75" y1="362.89" x2="76.75" y2="364.07" stroke="#16531b" stroke-width="0.9"/>
<line x1="74.95" y1="364.07" x2="78.55" y2="364.07" stroke="#16531b" stroke-width="0.9"/>
<line x1="76.75" y1="400.80" x2="76.75" y2="403.40" stroke="#222" stroke-width="0.9"/>
<text transform="translate(76.35,407.80) rotate(-45)" class="tl" font-size="7.0" text-anchor="end" fill="#222" dy="0.35em" textLength="22.06" lengthAdjust="spacingAndGlyphs">Infected</text>
<line x1="127.90" y1="348.90" x2="127.90" y2="401.40" stroke="#111" stroke-width="1.2"/>
<line x1="127.30" y1="400.80" x2="164.70" y2="400.80" stroke="#111" stroke-width="1.2"/>
<line x1="125.00" y1="400.80" x2="127.90" y2="400.80" stroke="#222" stroke-width="1.0"/>
<text x="122.30" y="402.90" font-size="5.9" text-anchor="end" fill="#222" letter-spacing="0.35">0</text>
<line x1="125.00" y1="390.98" x2="127.90" y2="390.98" stroke="#222" stroke-width="1.0"/>
<text x="122.30" y="393.08" font-size="5.9" text-anchor="end" fill="#222" letter-spacing="0.35">100</text>
<line x1="125.00" y1="381.16" x2="127.90" y2="381.16" stroke="#222" stroke-width="1.0"/>
<text x="122.30" y="383.26" font-size="5.9" text-anchor="end" fill="#222" letter-spacing="0.35">200</text>
<line x1="125.00" y1="371.34" x2="127.90" y2="371.34" stroke="#222" stroke-width="1.0"/>
<text x="122.30" y="373.44" font-size="5.9" text-anchor="end" fill="#222" letter-spacing="0.35">300</text>
<line x1="125.00" y1="361.52" x2="127.90" y2="361.52" stroke="#222" stroke-width="1.0"/>
<text x="122.30" y="363.62" font-size="5.9" text-anchor="end" fill="#222" letter-spacing="0.35">400</text>
<line x1="125.00" y1="351.70" x2="127.90" y2="351.70" stroke="#222" stroke-width="1.0"/>
<text x="122.30" y="353.80" font-size="5.9" text-anchor="end" fill="#222" letter-spacing="0.35">500</text>
<text transform="translate(104.60,375.10) rotate(-90)" class="tx" font-size="7.0" text-anchor="middle" fill="#222" textLength="45.8" lengthAdjust="spacingAndGlyphs">Expression (CPM)</text>
<text class="tl" x="146.90" y="334.00" font-size="8.5" text-anchor="middle" font-style="italic" fill="#222">C2CD3</text>
<text class="tl" x="146.90" y="343.80" font-size="8.0" text-anchor="middle" fill="#222">(ProE)</text>
<rect x="130.10" y="389.21" width="7.9" height="11.59" fill="#1a4c8c"/>
<line x1="134.05" y1="386.36" x2="134.05" y2="389.21" stroke="#222" stroke-width="0.9"/>
<line x1="132.25" y1="386.36" x2="135.85" y2="386.36" stroke="#222" stroke-width="0.9"/>
<line x1="134.05" y1="389.21" x2="134.05" y2="391.96" stroke="#0d2646" stroke-width="0.9"/>
<line x1="132.25" y1="391.96" x2="135.85" y2="391.96" stroke="#0d2646" stroke-width="0.9"/>
<line x1="134.05" y1="400.80" x2="134.05" y2="403.40" stroke="#222" stroke-width="0.9"/>
<text transform="translate(133.65,407.80) rotate(-45)" class="tl" font-size="7.0" text-anchor="end" fill="#222" dy="0.35em" textLength="16.89" lengthAdjust="spacingAndGlyphs">Media</text>
<rect x="142.15" y="388.53" width="7.9" height="12.28" fill="#f7931e"/>
<line x1="146.10" y1="386.36" x2="146.10" y2="388.53" stroke="#222" stroke-width="0.9"/>
<line x1="144.30" y1="386.36" x2="147.90" y2="386.36" stroke="#222" stroke-width="0.9"/>
<line x1="146.10" y1="388.53" x2="146.10" y2="390.69" stroke="#7b490f" stroke-width="0.9"/>
<line x1="144.30" y1="390.69" x2="147.90" y2="390.69" stroke="#7b490f" stroke-width="0.9"/>
<line x1="146.10" y1="400.80" x2="146.10" y2="403.40" stroke="#222" stroke-width="0.9"/>
<text transform="translate(145.70,407.80) rotate(-45)" class="tl" font-size="7.0" text-anchor="end" fill="#222" dy="0.35em" textLength="29.64" lengthAdjust="spacingAndGlyphs">Uninfected</text>
<rect x="154.20" y="380.67" width="7.9" height="20.13" fill="#2ca737"/>
<line x1="158.15" y1="376.25" x2="158.15" y2="380.67" stroke="#222" stroke-width="0.9"/>
<line x1="156.35" y1="376.25" x2="159.95" y2="376.25" stroke="#222" stroke-width="0.9"/>
<line x1="158.15" y1="380.67" x2="158.15" y2="385.09" stroke="#16531b" stroke-width="0.9"/>
<line x1="156.35" y1="385.09" x2="159.95" y2="385.09" stroke="#16531b" stroke-width="0.9"/>
<line x1="158.15" y1="400.80" x2="158.15" y2="403.40" stroke="#222" stroke-width="0.9"/>
<text transform="translate(157.75,407.80) rotate(-45)" class="tl" font-size="7.0" text-anchor="end" fill="#222" dy="0.35em" textLength="22.06" lengthAdjust="spacingAndGlyphs">Infected</text>
<line x1="209.40" y1="348.90" x2="209.40" y2="401.40" stroke="#111" stroke-width="1.2"/>
<line x1="208.80" y1="400.80" x2="246.20" y2="400.80" stroke="#111" stroke-width="1.2"/>
<line x1="206.50" y1="400.80" x2="209.40" y2="400.80" stroke="#222" stroke-width="1.0"/>
<text x="203.80" y="402.90" font-size="5.9" text-anchor="end" fill="#222" letter-spacing="0.35">0</text>
<line x1="206.50" y1="390.98" x2="209.40" y2="390.98" stroke="#222" stroke-width="1.0"/>
<text x="203.80" y="393.08" font-size="5.9" text-anchor="end" fill="#222" letter-spacing="0.35">100</text>
<line x1="206.50" y1="381.16" x2="209.40" y2="381.16" stroke="#222" stroke-width="1.0"/>
<text x="203.80" y="383.26" font-size="5.9" text-anchor="end" fill="#222" letter-spacing="0.35">200</text>
<line x1="206.50" y1="371.34" x2="209.40" y2="371.34" stroke="#222" stroke-width="1.0"/>
<text x="203.80" y="373.44" font-size="5.9" text-anchor="end" fill="#222" letter-spacing="0.35">300</text>
<line x1="206.50" y1="361.52" x2="209.40" y2="361.52" stroke="#222" stroke-width="1.0"/>
<text x="203.80" y="363.62" font-size="5.9" text-anchor="end" fill="#222" letter-spacing="0.35">400</text>
<line x1="206.50" y1="351.70" x2="209.40" y2="351.70" stroke="#222" stroke-width="1.0"/>
<text x="203.80" y="353.80" font-size="5.9" text-anchor="end" fill="#222" letter-spacing="0.35">500</text>
<text transform="translate(186.10,375.10) rotate(-90)" class="tx" font-size="7.0" text-anchor="middle" fill="#222" textLength="45.8" lengthAdjust="spacingAndGlyphs">Expression (CPM)</text>
<text class="tl" x="228.40" y="334.00" font-size="8.5" text-anchor="middle" font-style="italic" fill="#222">BUB1B</text>
<text class="tl" x="228.40" y="343.80" font-size="8.0" text-anchor="middle" fill="#222">(ProE)</text>
<rect x="211.60" y="367.61" width="7.9" height="33.19" fill="#1a4c8c"/>
<line x1="215.55" y1="367.12" x2="215.55" y2="367.61" stroke="#222" stroke-width="0.9"/>
<line x1="213.75" y1="367.12" x2="217.35" y2="367.12" stroke="#222" stroke-width="0.9"/>
<line x1="215.55" y1="367.61" x2="215.55" y2="368.10" stroke="#0d2646" stroke-width="0.9"/>
<line x1="213.75" y1="368.10" x2="217.35" y2="368.10" stroke="#222" stroke-width="0.9"/>
<line x1="215.55" y1="400.80" x2="215.55" y2="403.40" stroke="#222" stroke-width="0.9"/>
<text transform="translate(215.15,407.80) rotate(-45)" class="tl" font-size="7.0" text-anchor="end" fill="#222" dy="0.35em" textLength="16.89" lengthAdjust="spacingAndGlyphs">Media</text>
<rect x="223.65" y="373.99" width="7.9" height="26.81" fill="#f7931e"/>
<line x1="227.60" y1="372.22" x2="227.60" y2="373.99" stroke="#222" stroke-width="0.9"/>
<line x1="225.80" y1="372.22" x2="229.40" y2="372.22" stroke="#222" stroke-width="0.9"/>
<line x1="227.60" y1="373.99" x2="227.60" y2="375.76" stroke="#7b490f" stroke-width="0.9"/>
<line x1="225.80" y1="375.76" x2="229.40" y2="375.76" stroke="#7b490f" stroke-width="0.9"/>
<line x1="227.60" y1="400.80" x2="227.60" y2="403.40" stroke="#222" stroke-width="0.9"/>
<text transform="translate(227.20,407.80) rotate(-45)" class="tl" font-size="7.0" text-anchor="end" fill="#222" dy="0.35em" textLength="29.64" lengthAdjust="spacingAndGlyphs">Uninfected</text>
<rect x="235.70" y="362.11" width="7.9" height="38.69" fill="#2ca737"/>
<line x1="239.65" y1="357.59" x2="239.65" y2="362.11" stroke="#222" stroke-width="0.9"/>
<line x1="237.85" y1="357.59" x2="241.45" y2="357.59" stroke="#222" stroke-width="0.9"/>
<line x1="239.65" y1="362.11" x2="239.65" y2="368.00" stroke="#16531b" stroke-width="0.9"/>
<line x1="237.85" y1="368.00" x2="241.45" y2="368.00" stroke="#16531b" stroke-width="0.9"/>
<line x1="239.65" y1="400.80" x2="239.65" y2="403.40" stroke="#222" stroke-width="0.9"/>
<text transform="translate(239.25,407.80) rotate(-45)" class="tl" font-size="7.0" text-anchor="end" fill="#222" dy="0.35em" textLength="22.06" lengthAdjust="spacingAndGlyphs">Infected</text>
<line x1="313.70" y1="348.90" x2="313.70" y2="401.40" stroke="#111" stroke-width="1.2"/>
<line x1="313.10" y1="400.80" x2="350.50" y2="400.80" stroke="#111" stroke-width="1.2"/>
<line x1="310.80" y1="400.80" x2="313.70" y2="400.80" stroke="#222" stroke-width="1.0"/>
<text x="308.10" y="402.90" font-size="5.9" text-anchor="end" fill="#222" letter-spacing="0.35">0</text>
<line x1="310.80" y1="390.98" x2="313.70" y2="390.98" stroke="#222" stroke-width="1.0"/>
<text x="308.10" y="393.08" font-size="5.9" text-anchor="end" fill="#222" letter-spacing="0.35">100</text>
<line x1="310.80" y1="381.16" x2="313.70" y2="381.16" stroke="#222" stroke-width="1.0"/>
<text x="308.10" y="383.26" font-size="5.9" text-anchor="end" fill="#222" letter-spacing="0.35">200</text>
<line x1="310.80" y1="371.34" x2="313.70" y2="371.34" stroke="#222" stroke-width="1.0"/>
<text x="308.10" y="373.44" font-size="5.9" text-anchor="end" fill="#222" letter-spacing="0.35">300</text>
<line x1="310.80" y1="361.52" x2="313.70" y2="361.52" stroke="#222" stroke-width="1.0"/>
<text x="308.10" y="363.62" font-size="5.9" text-anchor="end" fill="#222" letter-spacing="0.35">400</text>
<line x1="310.80" y1="351.70" x2="313.70" y2="351.70" stroke="#222" stroke-width="1.0"/>
<text x="308.10" y="353.80" font-size="5.9" text-anchor="end" fill="#222" letter-spacing="0.35">500</text>
<text transform="translate(290.40,375.10) rotate(-90)" class="tx" font-size="7.0" text-anchor="middle" fill="#222" textLength="45.8" lengthAdjust="spacingAndGlyphs">Expression (CPM)</text>
<text class="tl" x="332.70" y="334.00" font-size="8.5" text-anchor="middle" font-style="italic" fill="#222">CCNB1</text>
<text class="tl" x="332.70" y="343.80" font-size="8.0" text-anchor="middle" fill="#222">(BasoE)</text>
<rect x="315.90" y="379.98" width="7.9" height="20.82" fill="#1a4c8c"/>
<line x1="319.85" y1="378.02" x2="319.85" y2="379.98" stroke="#222" stroke-width="0.9"/>
<line x1="318.05" y1="378.02" x2="321.65" y2="378.02" stroke="#222" stroke-width="0.9"/>
<line x1="319.85" y1="379.98" x2="319.85" y2="381.95" stroke="#0d2646" stroke-width="0.9"/>
<line x1="318.05" y1="381.95" x2="321.65" y2="381.95" stroke="#0d2646" stroke-width="0.9"/>
<line x1="319.85" y1="400.80" x2="319.85" y2="403.40" stroke="#222" stroke-width="0.9"/>
<text transform="translate(319.45,407.80) rotate(-45)" class="tl" font-size="7.0" text-anchor="end" fill="#222" dy="0.35em" textLength="16.89" lengthAdjust="spacingAndGlyphs">Media</text>
<rect x="327.95" y="384.01" width="7.9" height="16.79" fill="#f7931e"/>
<line x1="331.90" y1="381.16" x2="331.90" y2="384.01" stroke="#222" stroke-width="0.9"/>
<line x1="330.10" y1="381.16" x2="333.70" y2="381.16" stroke="#222" stroke-width="0.9"/>
<line x1="331.90" y1="384.01" x2="331.90" y2="386.95" stroke="#7b490f" stroke-width="0.9"/>
<line x1="330.10" y1="386.95" x2="333.70" y2="386.95" stroke="#7b490f" stroke-width="0.9"/>
<line x1="331.90" y1="400.80" x2="331.90" y2="403.40" stroke="#222" stroke-width="0.9"/>
<text transform="translate(331.50,407.80) rotate(-45)" class="tl" font-size="7.0" text-anchor="end" fill="#222" dy="0.35em" textLength="29.64" lengthAdjust="spacingAndGlyphs">Uninfected</text>
<rect x="340.00" y="376.05" width="7.9" height="24.75" fill="#2ca737"/>
<line x1="343.95" y1="367.31" x2="343.95" y2="376.05" stroke="#222" stroke-width="0.9"/>
<line x1="342.15" y1="367.31" x2="345.75" y2="367.31" stroke="#222" stroke-width="0.9"/>
<line x1="343.95" y1="400.80" x2="343.95" y2="403.40" stroke="#222" stroke-width="0.9"/>
<text transform="translate(343.55,407.80) rotate(-45)" class="tl" font-size="7.0" text-anchor="end" fill="#222" dy="0.35em" textLength="22.06" lengthAdjust="spacingAndGlyphs">Infected</text>
<line x1="394.80" y1="348.90" x2="394.80" y2="401.40" stroke="#111" stroke-width="1.2"/>
<line x1="394.20" y1="400.80" x2="431.60" y2="400.80" stroke="#111" stroke-width="1.2"/>
<line x1="391.90" y1="400.80" x2="394.80" y2="400.80" stroke="#222" stroke-width="1.0"/>
<text x="389.20" y="402.90" font-size="5.9" text-anchor="end" fill="#222" letter-spacing="0.35">0</text>
<line x1="391.90" y1="390.98" x2="394.80" y2="390.98" stroke="#222" stroke-width="1.0"/>
<text x="389.20" y="393.08" font-size="5.9" text-anchor="end" fill="#222" letter-spacing="0.35">100</text>
<line x1="391.90" y1="381.16" x2="394.80" y2="381.16" stroke="#222" stroke-width="1.0"/>
<text x="389.20" y="383.26" font-size="5.9" text-anchor="end" fill="#222" letter-spacing="0.35">200</text>
<line x1="391.90" y1="371.34" x2="394.80" y2="371.34" stroke="#222" stroke-width="1.0"/>
<text x="389.20" y="373.44" font-size="5.9" text-anchor="end" fill="#222" letter-spacing="0.35">300</text>
<line x1="391.90" y1="361.52" x2="394.80" y2="361.52" stroke="#222" stroke-width="1.0"/>
<text x="389.20" y="363.62" font-size="5.9" text-anchor="end" fill="#222" letter-spacing="0.35">400</text>
<line x1="391.90" y1="351.70" x2="394.80" y2="351.70" stroke="#222" stroke-width="1.0"/>
<text x="389.20" y="353.80" font-size="5.9" text-anchor="end" fill="#222" letter-spacing="0.35">500</text>
<text transform="translate(371.50,375.10) rotate(-90)" class="tx" font-size="7.0" text-anchor="middle" fill="#222" textLength="45.8" lengthAdjust="spacingAndGlyphs">Expression (CPM)</text>
<text class="tl" x="413.80" y="334.00" font-size="8.5" text-anchor="middle" font-style="italic" fill="#222">CDKN3</text>
<text class="tl" x="413.80" y="343.80" font-size="8.0" text-anchor="middle" fill="#222">(BasoE)</text>
<rect x="397.00" y="390.00" width="7.9" height="10.80" fill="#1a4c8c"/>
<line x1="400.95" y1="400.80" x2="400.95" y2="403.40" stroke="#222" stroke-width="0.9"/>
<text transform="translate(400.55,407.80) rotate(-45)" class="tl" font-size="7.0" text-anchor="end" fill="#222" dy="0.35em" textLength="16.89" lengthAdjust="spacingAndGlyphs">Media</text>
<rect x="409.05" y="391.08" width="7.9" height="9.72" fill="#f7931e"/>
<line x1="413.00" y1="390.49" x2="413.00" y2="391.08" stroke="#222" stroke-width="0.9"/>
<line x1="411.20" y1="390.49" x2="414.80" y2="390.49" stroke="#222" stroke-width="0.9"/>
<line x1="413.00" y1="391.08" x2="413.00" y2="391.67" stroke="#7b490f" stroke-width="0.9"/>
<line x1="411.20" y1="391.67" x2="414.80" y2="391.67" stroke="#7b490f" stroke-width="0.9"/>
<line x1="413.00" y1="400.80" x2="413.00" y2="403.40" stroke="#222" stroke-width="0.9"/>
<text transform="translate(412.60,407.80) rotate(-45)" class="tl" font-size="7.0" text-anchor="end" fill="#222" dy="0.35em" textLength="29.64" lengthAdjust="spacingAndGlyphs">Uninfected</text>
<rect x="421.10" y="384.89" width="7.9" height="15.91" fill="#2ca737"/>
<line x1="425.05" y1="373.70" x2="425.05" y2="384.89" stroke="#222" stroke-width="0.9"/>
<line x1="423.25" y1="373.70" x2="426.85" y2="373.70" stroke="#222" stroke-width="0.9"/>
<line x1="425.05" y1="384.89" x2="425.05" y2="388.23" stroke="#16531b" stroke-width="0.9"/>
<line x1="423.25" y1="388.23" x2="426.85" y2="388.23" stroke="#16531b" stroke-width="0.9"/>
<line x1="425.05" y1="400.80" x2="425.05" y2="403.40" stroke="#222" stroke-width="0.9"/>
<text transform="translate(424.65,407.80) rotate(-45)" class="tl" font-size="7.0" text-anchor="end" fill="#222" dy="0.35em" textLength="22.06" lengthAdjust="spacingAndGlyphs">Infected</text>
<line x1="476.30" y1="348.90" x2="476.30" y2="401.40" stroke="#111" stroke-width="1.2"/>
<line x1="475.70" y1="400.80" x2="513.10" y2="400.80" stroke="#111" stroke-width="1.2"/>
<line x1="473.40" y1="400.80" x2="476.30" y2="400.80" stroke="#222" stroke-width="1.0"/>
<text x="470.70" y="402.90" font-size="5.9" text-anchor="end" fill="#222" letter-spacing="0.35">0</text>
<line x1="473.40" y1="390.98" x2="476.30" y2="390.98" stroke="#222" stroke-width="1.0"/>
<text x="470.70" y="393.08" font-size="5.9" text-anchor="end" fill="#222" letter-spacing="0.35">100</text>
<line x1="473.40" y1="381.16" x2="476.30" y2="381.16" stroke="#222" stroke-width="1.0"/>
<text x="470.70" y="383.26" font-size="5.9" text-anchor="end" fill="#222" letter-spacing="0.35">200</text>
<line x1="473.40" y1="371.34" x2="476.30" y2="371.34" stroke="#222" stroke-width="1.0"/>
<text x="470.70" y="373.44" font-size="5.9" text-anchor="end" fill="#222" letter-spacing="0.35">300</text>
<line x1="473.40" y1="361.52" x2="476.30" y2="361.52" stroke="#222" stroke-width="1.0"/>
<text x="470.70" y="363.62" font-size="5.9" text-anchor="end" fill="#222" letter-spacing="0.35">400</text>
<line x1="473.40" y1="351.70" x2="476.30" y2="351.70" stroke="#222" stroke-width="1.0"/>
<text x="470.70" y="353.80" font-size="5.9" text-anchor="end" fill="#222" letter-spacing="0.35">500</text>
<text transform="translate(453.00,375.10) rotate(-90)" class="tx" font-size="7.0" text-anchor="middle" fill="#222" textLength="45.8" lengthAdjust="spacingAndGlyphs">Expression (CPM)</text>
<text class="tl" x="495.30" y="334.00" font-size="8.5" text-anchor="middle" font-style="italic" fill="#222">NEK2</text>
<text class="tl" x="495.30" y="343.80" font-size="8.0" text-anchor="middle" fill="#222">(BasoE)</text>
<rect x="478.50" y="376.45" width="7.9" height="24.35" fill="#1a4c8c"/>
<line x1="482.45" y1="375.17" x2="482.45" y2="376.45" stroke="#222" stroke-width="0.9"/>
<line x1="480.65" y1="375.17" x2="484.25" y2="375.17" stroke="#222" stroke-width="0.9"/>
<line x1="482.45" y1="376.45" x2="482.45" y2="377.72" stroke="#0d2646" stroke-width="0.9"/>
<line x1="480.65" y1="377.72" x2="484.25" y2="377.72" stroke="#0d2646" stroke-width="0.9"/>
<line x1="482.45" y1="400.80" x2="482.45" y2="403.40" stroke="#222" stroke-width="0.9"/>
<text transform="translate(482.05,407.80) rotate(-45)" class="tl" font-size="7.0" text-anchor="end" fill="#222" dy="0.35em" textLength="16.89" lengthAdjust="spacingAndGlyphs">Media</text>
<rect x="490.55" y="384.01" width="7.9" height="16.79" fill="#f7931e"/>
<line x1="494.50" y1="378.51" x2="494.50" y2="384.01" stroke="#222" stroke-width="0.9"/>
<line x1="492.70" y1="378.51" x2="496.30" y2="378.51" stroke="#222" stroke-width="0.9"/>
<line x1="494.50" y1="384.01" x2="494.50" y2="393.44" stroke="#7b490f" stroke-width="0.9"/>
<line x1="492.70" y1="393.44" x2="496.30" y2="393.44" stroke="#7b490f" stroke-width="0.9"/>
<line x1="494.50" y1="400.80" x2="494.50" y2="403.40" stroke="#222" stroke-width="0.9"/>
<text transform="translate(494.10,407.80) rotate(-45)" class="tl" font-size="7.0" text-anchor="end" fill="#222" dy="0.35em" textLength="29.64" lengthAdjust="spacingAndGlyphs">Uninfected</text>
<rect x="502.60" y="365.45" width="7.9" height="35.35" fill="#2ca737"/>
<line x1="506.55" y1="356.90" x2="506.55" y2="365.45" stroke="#222" stroke-width="0.9"/>
<line x1="504.75" y1="356.90" x2="508.35" y2="356.90" stroke="#222" stroke-width="0.9"/>
<line x1="506.55" y1="365.45" x2="506.55" y2="371.73" stroke="#16531b" stroke-width="0.9"/>
<line x1="504.75" y1="371.73" x2="508.35" y2="371.73" stroke="#16531b" stroke-width="0.9"/>
<line x1="506.55" y1="400.80" x2="506.55" y2="403.40" stroke="#222" stroke-width="0.9"/>
<text transform="translate(506.15,407.80) rotate(-45)" class="tl" font-size="7.0" text-anchor="end" fill="#222" dy="0.35em" textLength="22.06" lengthAdjust="spacingAndGlyphs">Infected</text>
<rect x="0.5" y="0.5" width="519" height="436" fill="none" stroke="#5c5c5c" stroke-width="1"/>
</svg></body></html>
